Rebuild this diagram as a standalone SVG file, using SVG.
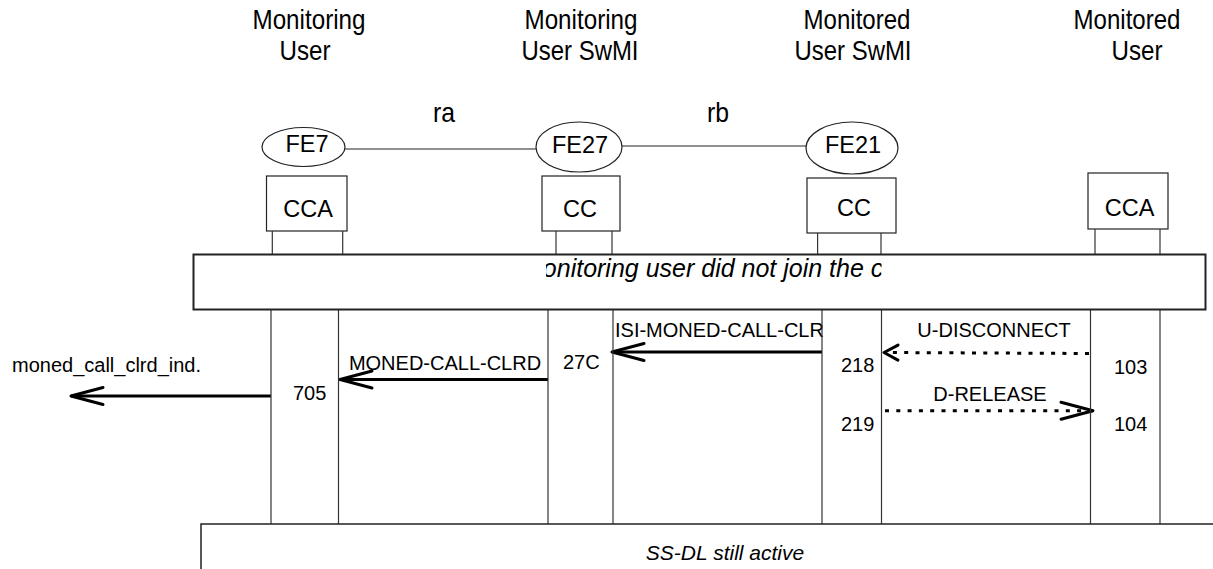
<svg xmlns="http://www.w3.org/2000/svg" width="1213" height="569" viewBox="0 0 1213 569">
<style>
  text { font-family: "Liberation Sans", Arial, sans-serif; fill: #000; }
  .hdr { font-size: 28px; text-anchor: middle; }
  .fe { font-size: 23.5px; text-anchor: middle; }
  .lbl { font-size: 20px; }
  .mid { text-anchor: middle; }
  .ital { font-style: italic; }
  .shape { fill: #fff; stroke: #222; stroke-width: 1.2; }
  .life { stroke: #333; stroke-width: 1.2; fill: none; }
  .msg { stroke: #000; stroke-width: 3; fill: none; }
  .dot { stroke: #000; stroke-width: 3; fill: none; stroke-dasharray: 4 7.3; }
  .rel { stroke: #222; stroke-width: 1.2; fill: none; }
</style>
<defs>
  <marker id="open" markerUnits="userSpaceOnUse" viewBox="-34 -12 38 24" refX="0" refY="0" markerWidth="38" markerHeight="24" orient="auto">
    <path d="M-32,-8.5 L0,0 L-32,8.5" fill="none" stroke="#000" stroke-width="3" stroke-linejoin="round" stroke-linecap="round"/>
  </marker>
  <marker id="small" markerUnits="userSpaceOnUse" viewBox="-20 -12 24 24" refX="0" refY="0" markerWidth="24" markerHeight="24" orient="auto">
    <path d="M-14,-7.5 L0,0 L-14,7.5" fill="none" stroke="#000" stroke-width="3" stroke-linejoin="round" stroke-linecap="round"/>
  </marker>
  <clipPath id="clipMon">
    <rect x="546" y="255" width="335.5" height="54"/>
  </clipPath>
</defs>

<g id="headers">
  <text class="hdr" x="309" y="29" textLength="113" lengthAdjust="spacingAndGlyphs">Monitoring</text>
  <text class="hdr" x="305" y="60" textLength="51" lengthAdjust="spacingAndGlyphs">User</text>
  <text class="hdr" x="581" y="29" textLength="113" lengthAdjust="spacingAndGlyphs">Monitoring</text>
  <text class="hdr" x="580" y="60" textLength="117" lengthAdjust="spacingAndGlyphs">User SwMI</text>
  <text class="hdr" x="857" y="29" textLength="107" lengthAdjust="spacingAndGlyphs">Monitored</text>
  <text class="hdr" x="853" y="60" textLength="117" lengthAdjust="spacingAndGlyphs">User SwMI</text>
  <text class="hdr" x="1127" y="29" textLength="107" lengthAdjust="spacingAndGlyphs">Monitored</text>
  <text class="hdr" x="1137" y="60" textLength="51" lengthAdjust="spacingAndGlyphs">User</text>
</g>

<g id="connectors">
  <line class="rel" x1="345" y1="149" x2="536" y2="149"/>
  <text class="hdr" x="444" y="122" textLength="22" lengthAdjust="spacingAndGlyphs">ra</text>
  <line class="rel" x1="622" y1="146" x2="806" y2="146"/>
  <text class="hdr" x="718" y="122" textLength="22" lengthAdjust="spacingAndGlyphs">rb</text>

  <line class="msg" x1="822" y1="352" x2="612" y2="352" marker-end="url(#open)"/>
  <text class="lbl" x="615" y="337">ISI-MONED-CALL-CLR</text>

  <line class="msg" x1="548" y1="379.5" x2="340" y2="379.5" marker-end="url(#open)"/>
  <text class="lbl mid" x="445" y="370">MONED-CALL-CLRD</text>

  <line class="msg" x1="271" y1="396" x2="71" y2="396" marker-end="url(#open)"/>
  <text class="lbl" x="12" y="372">moned_call_clrd_ind.</text>

  <line class="dot" x1="1089" y1="353.5" x2="884" y2="352.5" marker-end="url(#small)"/>
  <text class="lbl mid" x="994" y="337">U-DISCONNECT</text>

  <line class="dot" x1="885" y1="410.7" x2="1093" y2="410.7" marker-end="url(#open)"/>
  <text class="lbl mid" x="990" y="401">D-RELEASE</text>
</g>

<g id="node-fe7">
  <ellipse class="shape" cx="303.5" cy="147" rx="41.5" ry="19.5"/>
  <text class="fe" x="307" y="152">FE7</text>
  <rect class="shape" x="266.5" y="176" width="80.5" height="55"/>
  <text class="fe" x="308" y="217">CCA</text>
  <line class="life" x1="272.3" y1="231" x2="272.3" y2="254"/>
  <line class="life" x1="342.7" y1="231" x2="342.7" y2="254"/>
  <line class="life" x1="271" y1="310" x2="271" y2="524"/>
  <line class="life" x1="338.5" y1="310" x2="338.5" y2="524"/>
  <text class="lbl" x="293" y="400">705</text>
</g>

<g id="node-fe27">
  <ellipse class="shape" cx="579" cy="147" rx="43" ry="25" stroke-width="2"/>
  <text class="fe" x="580" y="153">FE27</text>
  <rect class="shape" x="542" y="176" width="78" height="55"/>
  <text class="fe" x="580" y="217">CC</text>
  <line class="life" x1="556" y1="231" x2="556" y2="254"/>
  <line class="life" x1="612" y1="231" x2="612" y2="254"/>
  <line class="life" x1="548" y1="310" x2="548" y2="524"/>
  <line class="life" x1="613" y1="310" x2="613" y2="524"/>
  <text class="lbl" x="563" y="369">27C</text>
</g>

<g id="node-fe21">
  <ellipse class="shape" cx="852" cy="148" rx="46" ry="26"/>
  <text class="fe" x="853" y="153">FE21</text>
  <rect class="shape" x="807" y="178" width="89" height="55"/>
  <text class="fe" x="854" y="216">CC</text>
  <line class="life" x1="817.6" y1="233" x2="817.6" y2="254"/>
  <line class="life" x1="881" y1="233" x2="881" y2="254"/>
  <line class="life" x1="822" y1="310" x2="822" y2="524"/>
  <line class="life" x1="881.5" y1="310" x2="881.5" y2="524"/>
  <text class="lbl" x="841" y="372">218</text>
  <text class="lbl" x="841" y="431">219</text>
</g>

<g id="node-user">
  <rect class="shape" x="1088" y="173" width="80" height="56"/>
  <text class="fe" x="1129.5" y="216">CCA</text>
  <line class="life" x1="1095" y1="229" x2="1095" y2="254"/>
  <line class="life" x1="1160" y1="229" x2="1160" y2="254"/>
  <line class="life" x1="1090.5" y1="310" x2="1090.5" y2="524"/>
  <line class="life" x1="1160" y1="310" x2="1160" y2="524"/>
  <text class="lbl" x="1114" y="374">103</text>
  <text class="lbl" x="1114" y="431">104</text>
</g>

<g id="state-monitoring">
  <rect x="193.5" y="254.5" width="1012" height="55" fill="#fff" stroke="#222" stroke-width="2"/>
  <text class="ital" x="522" y="276.5" font-size="25" clip-path="url(#clipMon)">Monitoring user did not join the call</text>
</g>

<g id="state-active">
  <rect x="201" y="524" width="1100" height="70" fill="#fff" stroke="#222" stroke-width="1.5"/>
  <text class="ital mid" x="725" y="560" font-size="21">SS-DL still active</text>
</g>
</svg>
